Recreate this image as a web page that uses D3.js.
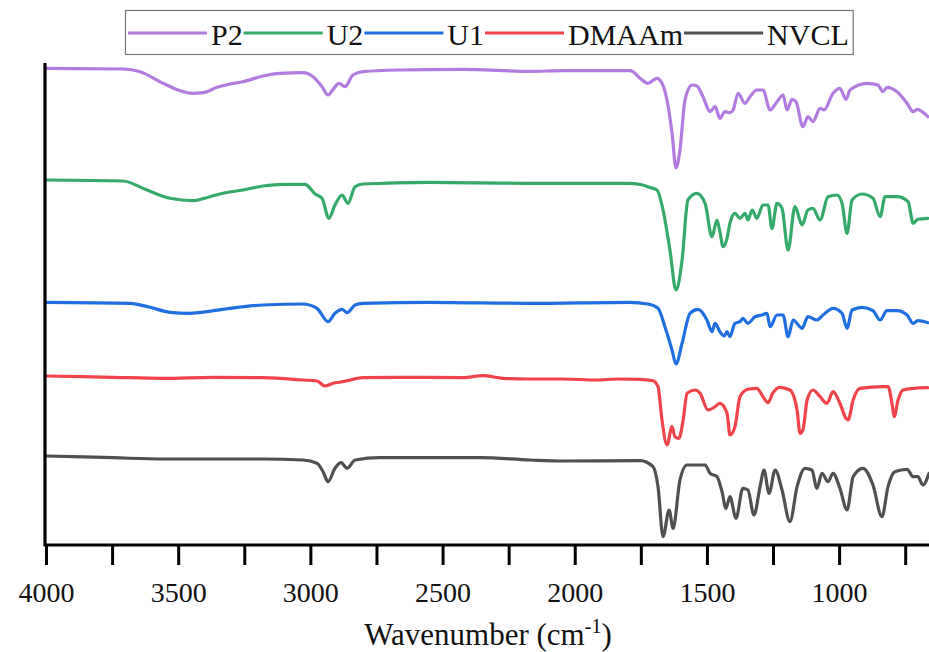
<!DOCTYPE html>
<html>
<head>
<meta charset="utf-8">
<script src="https://cdn.jsdelivr.net/npm/d3@7"></script>
<style>
  html, body { margin: 0; padding: 0; background: #fff; }
  svg { display: block; }
</style>
</head>
<body>
<svg id="chart" width="929" height="652"></svg>
<script>
// ---- Data (wavenumber in cm^-1, offset transmittance in arbitrary units) ----
const seriesNames = ["P2", "U2", "U1", "DMAAm", "NVCL"];
const seriesColors = ["#b27be0", "#35a96a", "#1f6fe0", "#f0434a", "#505050"];

const p2Wn = [4000,3709,3644,3557,3493,3444,3406,3353,3304,3255,3179,3115,3028,2990,2956,2933,2914,2892,2869,2839,2801,2672,2423,2169,2044,1791,1780,1753,1723,1689,1670,1651,1632,1617,1602,1583,1556,1538,1515,1488,1469,1451,1432,1413,1401,1382,1356,1337,1311,1288,1261,1235,1212,1197,1178,1163,1137,1118,1099,1072,1057,1023,997,974,959,894,853,834,819,781,743,720,705,664];
const p2T  = [476.7,476,473.3,461.7,454.3,451.7,452.3,457.7,461,463.3,469,471.7,472.3,468.3,458.3,450,455.7,461.7,458.3,470,473.3,475,475.7,473.7,474.3,474.3,473.3,466.7,461.7,466.7,461.7,445,412,377,395,445,460,459,448.3,433.3,438.3,426.7,433.3,432.3,435,451.7,441.7,448.3,455,455,435,443.3,450,435,445.7,443.3,418.3,428.3,423.3,436.7,435,451.7,456.7,445.7,455,461.7,460,453.3,457.7,453.3,441.7,433.3,435.7,428.3];

const u2Wn = [4000,3709,3618,3531,3444,3380,3330,3255,3179,3103,3020,2982,2956,2930,2907,2880,2858,2831,2801,2547,2169,1791,1742,1715,1689,1666,1640,1617,1594,1572,1538,1507,1481,1462,1451,1439,1424,1413,1394,1375,1356,1345,1329,1311,1288,1269,1254,1235,1216,1193,1167,1140,1118,1099,1072,1042,1008,989,970,951,913,872,845,826,781,739,720,702,664];
const u2T  = [365,364,355,346.7,344.3,348.3,351.7,355,359,360.7,360.7,351,346.7,326.7,340,350,341.7,358.3,361,362.7,361.7,361.7,360,357.5,355,335,295,255,285,345,351.7,341.7,308.3,325,313.3,298.3,306.7,321.7,331.7,326.7,331.7,325,335,326.7,340,340,316.7,341.7,336.7,295,338.3,320,335,336.7,325,348.3,350,341.7,311.7,345,351,346.7,328.3,348.3,348.3,343.3,321.7,325.7,326.7];

const u1Wn = [4000,3682,3607,3531,3455,3391,3304,3179,3028,2975,2933,2907,2880,2861,2831,2801,2547,2169,1791,1723,1685,1659,1632,1617,1594,1564,1534,1500,1481,1469,1451,1435,1424,1413,1394,1375,1364,1345,1318,1292,1273,1261,1235,1212,1193,1174,1140,1118,1084,1061,1023,989,970,951,913,872,845,819,781,743,720,702,664];
const u1T  = [242.7,241.7,237.7,232.7,231.7,233.3,236.7,240,241,236.7,223.3,231.7,235.7,232.3,240,241.7,242.7,241.7,242.7,241,236.7,218.3,195,181,201.7,231.7,235.7,225,213.3,221.7,213.3,209,213.3,208.3,221.7,223.3,226.7,221.7,228.3,230,231.7,218.3,230,230,208.3,225,216.7,228.3,225,230,236.7,231.7,216.7,235,237.7,234.3,225,234.3,234.3,230,221.7,224.3,222.3];

const dmWn = [4000,3747,3557,3368,3179,3028,2975,2945,2914,2877,2801,2672,2423,2347,2271,2169,2044,1916,1840,1753,1704,1685,1670,1651,1632,1621,1606,1590,1575,1545,1526,1496,1469,1451,1424,1413,1394,1375,1345,1311,1288,1269,1250,1224,1186,1159,1148,1137,1121,1099,1072,1046,1023,997,974,966,947,921,834,815,800,792,777,758,720,664];
const dmT  = [169,167.7,166.7,167.7,167.3,165,164,159,161.7,163.3,167.3,167.7,167.3,169.3,166.7,166,166,165,166,165.7,164.3,158.3,125,100,118.3,108.3,106.7,125,151.7,155,151.7,135,138.3,141.7,131.7,110,118.3,148.3,155.7,156.7,148.3,142.3,152.3,157.7,155,135,111.7,115,145,155,148.3,141.7,153.3,141.7,126.7,125,145,156.7,158.3,158.3,141.7,128.3,145,155,156.7,157.3];

const nvWn = [4000,3747,3557,3179,3028,2975,2952,2933,2907,2884,2861,2831,2737,2358,2169,2044,1753,1704,1685,1666,1643,1628,1602,1575,1507,1488,1462,1443,1428,1413,1390,1364,1345,1322,1299,1284,1265,1242,1216,1186,1159,1129,1103,1084,1065,1042,1023,997,970,947,910,872,838,815,789,743,720,702,683,660];
const nvT  = [89,87.3,86,86,85,81.7,73.3,63.3,76.7,82.3,76.7,85,87.3,87.3,85,84,84.3,78.3,58.3,8.3,35,16.7,65,80,80,71.7,68.3,53.3,36.7,48.3,26.7,56.7,55,30,58.3,75,51.7,75,55,23.3,58.3,76.7,75,56.7,71.7,63.3,71.7,56.7,35,68.3,76.7,60,28.3,58.3,73.3,75.7,68.3,68.3,60,71.7];

const xTicksMajor = [4000, 3500, 3000, 2500, 2000, 1500, 1000];
const xTicksAll = [4000,3750,3500,3250,3000,2750,2500,2250,2000,1750,1500,1250,1000,750];
const xTitle = "Wavenumber (cm";
const xTitleSup = "-1";

const seriesWn = [p2Wn, u2Wn, u1Wn, dmWn, nvWn];
const seriesT = [p2T, u2T, u1T, dmT, nvT];

const FONT = "'Liberation Serif', 'Times New Roman', Times, 'DejaVu Serif', serif";

// ---- Layout ----
const svg = d3.select("#chart");
const x0 = 45, x1 = 929, yTop = 63, yBot = 545;

const x = d3.scaleLinear().domain([4000, 660]).range([46, 929]);
const y = d3.scaleLinear().domain([0, 480]).range([545, 65]);

svg.append("clipPath").attr("id", "clip")
  .append("rect").attr("x", x0).attr("y", 0).attr("width", x1 - x0).attr("height", yBot);

const line = d3.line()
  .x(d => x(d[0]))
  .y(d => y(d[1]))
  .curve(d3.curveMonotoneX);

const gLines = svg.append("g").attr("clip-path", "url(#clip)");
seriesNames.forEach((name, i) => {
  const pts = seriesWn[i].map((w, k) => [w, seriesT[i][k]]);
  gLines.append("path")
    .datum(pts)
    .attr("d", line)
    .attr("fill", "none")
    .attr("stroke", seriesColors[i])
    .attr("stroke-width", 3.2)
    .attr("stroke-linejoin", "round")
    .attr("stroke-linecap", "round");
});

// ---- Axes ----
const xAxis = d3.axisBottom(x)
  .tickValues(xTicksAll)
  .tickSize(20)
  .tickFormat(d => xTicksMajor.includes(d) ? d3.format("d")(d) : "");

const gx = svg.append("g").attr("transform", `translate(0,${yBot})`).call(xAxis)
  .attr("font-family", FONT);
gx.select(".domain").remove();
gx.selectAll(".tick line").attr("stroke", "#000").attr("stroke-width", 3);
gx.selectAll(".tick text")
  .attr("y", 37)
  .attr("dy", "0.71em")
  .attr("font-family", FONT)
  .attr("font-size", 28)
  .attr("fill", "#111");

svg.append("line")
  .attr("x1", x0).attr("x2", x1).attr("y1", yBot).attr("y2", yBot)
  .attr("stroke", "#000").attr("stroke-width", 3.2);
svg.append("line")
  .attr("x1", x0).attr("x2", x0).attr("y1", yTop).attr("y2", yBot + 1.5)
  .attr("stroke", "#000").attr("stroke-width", 3.2);

// axis title
const title = svg.append("text")
  .attr("x", 488).attr("y", 645)
  .attr("text-anchor", "middle")
  .attr("font-family", FONT)
  .attr("font-size", 31)
  .attr("fill", "#111");
title.append("tspan").text(xTitle);
title.append("tspan").attr("dy", -12).attr("font-size", 20).text(xTitleSup);
title.append("tspan").attr("dy", 12).text(")");

// ---- Legend ----
const legend = svg.append("g");
const legBox = legend.append("rect")
  .attr("x", 125.5).attr("y", 10.5).attr("height", 44)
  .attr("fill", "#fff").attr("stroke", "#777").attr("stroke-width", 1.2);

let cx = 128;
const legY = 33;
seriesNames.forEach((name, i) => {
  legend.append("line")
    .attr("x1", cx).attr("x2", cx + 79).attr("y1", legY).attr("y2", legY)
    .attr("stroke", seriesColors[i]).attr("stroke-width", 3.2);
  cx += 79 + 4;
  const t = legend.append("text")
    .attr("x", cx).attr("y", 45)
    .attr("font-family", FONT)
    .attr("font-size", 30)
    .attr("fill", "#111")
    .text(name);
  cx += t.node().getComputedTextLength() + 1;
});
legBox.attr("width", cx - 125 + 3);
</script>
</body>
</html>
